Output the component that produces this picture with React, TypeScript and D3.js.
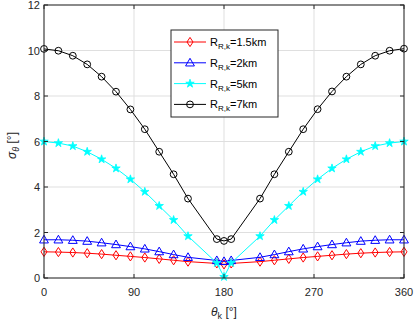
import React from "react";
import * as d3 from "d3";

const theta = [0, 14.4, 28.8, 43.2, 57.6, 72, 86.4, 100.8, 115.2, 129.6, 144, 172.8, 180, 187.2, 216, 230.4, 244.8, 259.2, 273.6, 288, 302.4, 316.8, 331.2, 345.6, 360];
const r15 = [1.15, 1.14, 1.12, 1.09, 1.05, 1.0, 0.95, 0.9, 0.84, 0.78, 0.72, 0.64, 0.6, 0.64, 0.72, 0.78, 0.84, 0.9, 0.95, 1.0, 1.05, 1.09, 1.12, 1.14, 1.15];
const r2 = [1.68, 1.68, 1.66, 1.62, 1.55, 1.47, 1.38, 1.28, 1.16, 1.03, 0.91, 0.77, 0.73, 0.77, 0.91, 1.03, 1.16, 1.28, 1.38, 1.47, 1.55, 1.62, 1.66, 1.68, 1.68];
const r5 = [6.0, 5.93, 5.8, 5.55, 5.22, 4.82, 4.34, 3.79, 3.17, 2.55, 1.84, 0.66, 0.05, 0.66, 1.84, 2.55, 3.17, 3.79, 4.34, 4.82, 5.22, 5.55, 5.8, 5.93, 6.0];
const r7 = [10.07, 9.99, 9.77, 9.39, 8.85, 8.19, 7.41, 6.54, 5.55, 4.56, 3.49, 1.71, 1.63, 1.71, 3.49, 4.56, 5.55, 6.54, 7.42, 8.2, 8.85, 9.39, 9.77, 9.99, 10.08];
const xTicks = [0, 90, 180, 270, 360];
const yTicks = [0, 2, 4, 6, 8, 10, 12];
const seriesNames = ["1.5km", "2km", "5km", "7km"];

const W = 415, H = 325;
const margin = { top: 5, right: 11, bottom: 47, left: 44 };
const font = "'Liberation Sans', Arial, sans-serif";
const axisColor = "#262626";

const diamond = "M0,-4.6L3,0L0,4.6L-3,0Z";

const Marker = ({ kind, color, x, y }) => {
  const t = `translate(${x},${y})`;
  if (kind === "d") return <path d={diamond} transform={t} fill="none" stroke={color} strokeWidth={1} />;
  if (kind === "t") return <path d={d3.symbol(d3.symbolTriangle, 34)()} transform={`translate(${x},${y + 0.6})`} fill="none" stroke={color} strokeWidth={1} />;
  if (kind === "s") return <path d={d3.symbol(d3.symbolStar, 22)()} transform={t} fill={color} stroke={color} strokeWidth={0.8} />;
  return <circle cx={x} cy={y} r={3.4} fill="none" stroke={color} strokeWidth={1} />;
};

export default function App() {
  const x = d3.scaleLinear().domain([0, 360]).range([margin.left, W - margin.right]);
  const y = d3.scaleLinear().domain([0, 12]).range([H - margin.bottom, margin.top]);
  const line = d3.line<number>().x((_, i) => x(theta[i])).y(d => y(d));

  const series = [
    { vals: r15, color: "#ff0000", kind: "d" },
    { vals: r2, color: "#0000ff", kind: "t" },
    { vals: r5, color: "#00ffff", kind: "s" },
    { vals: r7, color: "#000000", kind: "o" },
  ];

  const [x0, x1] = x.range();
  const [y0, y1] = y.range();
  const lg = { x: 171, y: 30, w: 107, h: 87 };

  return (
    <svg width={W} height={H} style={{ position: "absolute", left: 0, top: 0, background: "#fff" }} fontFamily={font}>
      {/* grid */}
      {xTicks.map(t => (
        <line key={"gx" + t} x1={x(t)} x2={x(t)} y1={y0} y2={y1} stroke="#dfdfdf" strokeWidth={1} />
      ))}
      {yTicks.map(t => (
        <line key={"gy" + t} x1={x0} x2={x1} y1={y(t)} y2={y(t)} stroke="#dfdfdf" strokeWidth={1} />
      ))}

      {/* series */}
      {series.map((s, si) => (
        <g key={si}>
          <path d={line(s.vals)} fill="none" stroke={s.color} strokeWidth={1} />
          {s.vals.map((v, i) => (
            <Marker key={i} kind={s.kind} color={s.color} x={x(theta[i])} y={y(v)} />
          ))}
        </g>
      ))}

      {/* box + ticks */}
      <rect x={x0} y={y1} width={x1 - x0} height={y0 - y1} fill="none" stroke={axisColor} strokeWidth={1} />
      {xTicks.map(t => (
        <g key={"tx" + t}>
          <line x1={x(t)} x2={x(t)} y1={y0} y2={y0 - 4} stroke={axisColor} />
          <line x1={x(t)} x2={x(t)} y1={y1} y2={y1 + 4} stroke={axisColor} />
          <text x={x(t)} y={y0 + 18} textAnchor="middle" fontSize={11} fill={axisColor}>{t}</text>
        </g>
      ))}
      {yTicks.map(t => (
        <g key={"ty" + t}>
          <line x1={x0} x2={x0 + 4} y1={y(t)} y2={y(t)} stroke={axisColor} />
          <line x1={x1} x2={x1 - 4} y1={y(t)} y2={y(t)} stroke={axisColor} />
          <text x={x0 - 4} y={y(t) + 4} textAnchor="end" fontSize={11} fill={axisColor}>{t}</text>
        </g>
      ))}

      {/* axis labels */}
      <text x={(x0 + x1) / 2} y={H - 9} textAnchor="middle" fontSize={12} fill={axisColor}>
        <tspan fontStyle="italic">θ</tspan>
        <tspan fontSize={9} dy={3}>k</tspan>
        <tspan dy={-3}> [°]</tspan>
      </text>
      <text transform={`translate(16,${(y0 + y1) / 2 + 4}) rotate(-90)`} textAnchor="middle" fontSize={12} fill={axisColor}>
        <tspan fontStyle="italic">σ</tspan>
        <tspan fontSize={9} dy={3} fontStyle="italic">θ</tspan>
        <tspan dy={-3}> [°]</tspan>
      </text>

      {/* legend */}
      <rect x={lg.x} y={lg.y} width={lg.w} height={lg.h} fill="#fff" stroke={axisColor} strokeWidth={1} />
      {series.map((s, i) => {
        const ly = lg.y + 12 + i * 20.8;
        return (
          <g key={"lg" + i}>
            <line x1={lg.x + 3} x2={lg.x + 35} y1={ly} y2={ly} stroke={s.color} strokeWidth={1} />
            <Marker kind={s.kind} color={s.color} x={lg.x + 19} y={ly} />
            <text x={lg.x + 39} y={ly + 4} fontSize={11} fill="#000">
              R<tspan fontSize={8} dy={3}>R,k</tspan><tspan dy={-3}>={seriesNames[i]}</tspan>
            </text>
          </g>
        );
      })}
    </svg>
  );
}
